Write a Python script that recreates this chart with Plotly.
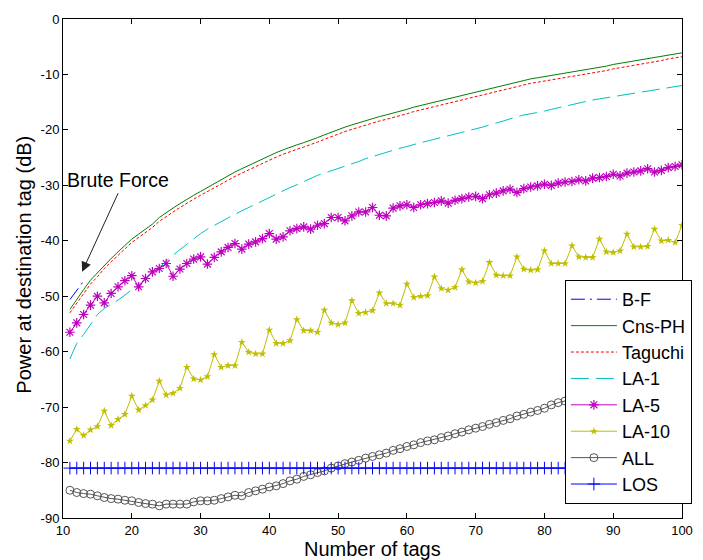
import plotly.graph_objects as go

# ---------------- data ----------------
n_tags = list(range(11, 101))

bf_x = [11, 12, 13]
bf_y = [-50.6, -48.9, -47.3]

cns_ph = [
    -52.4, -50.5, -48.8, -47.1, -45.8, -44.4, -43.2, -42.0, -40.8, -39.7,   # 11-20
    -38.8, -37.9, -37.0, -35.8, -34.9, -34.1, -33.3, -32.5, -31.8, -31.1,   # 21-30
    -30.4, -29.7, -28.9, -28.2, -27.6, -27.0, -26.4, -25.8, -25.2, -24.6,   # 31-40
    -24.1, -23.6, -23.1, -22.7, -22.3, -21.9, -21.4, -20.9, -20.4, -19.9,   # 41-50
    -19.5, -19.1, -18.7, -18.3, -17.9, -17.6, -17.3, -17.0, -16.7, -16.3,   # 51-60
    -15.9, -15.6, -15.3, -15.0, -14.7, -14.3, -14.0, -13.7, -13.4, -13.1,   # 61-70
    -12.8, -12.6, -12.3, -12.0, -11.6, -11.3, -11.0, -10.8, -10.6, -10.4,   # 71-80
    -10.1, -9.9, -9.7, -9.5, -9.3, -9.1, -8.9, -8.7, -8.5, -8.2,            # 81-90
    -8.0, -7.8, -7.6, -7.4, -7.2, -7.0, -6.8, -6.5, -6.3, -6.1,             # 91-100
]

taguchi = [
    -53.0, -51.2, -49.5, -47.8, -46.5, -45.0, -43.8, -42.6, -41.4, -40.3,
    -39.4, -38.5, -37.6, -36.5, -35.6, -34.8, -34.0, -33.2, -32.5, -31.8,
    -31.1, -30.4, -29.7, -29.0, -28.4, -27.8, -27.2, -26.6, -26.0, -25.4,
    -24.9, -24.4, -23.9, -23.5, -23.1, -22.7, -22.2, -21.7, -21.2, -20.7,
    -20.3, -19.9, -19.5, -19.1, -18.7, -18.4, -18.1, -17.8, -17.5, -17.1,
    -16.7, -16.4, -16.1, -15.8, -15.5, -15.1, -14.8, -14.5, -14.2, -13.9,
    -13.6, -13.4, -13.1, -12.8, -12.4, -12.1, -11.8, -11.6, -11.4, -11.2,
    -10.9, -10.7, -10.5, -10.3, -10.1, -9.9, -9.7, -9.5, -9.3, -9.0,
    -8.8, -8.6, -8.4, -8.2, -8.0, -7.8, -7.5, -7.2, -7.0, -6.8,
]

la1 = [
    -61.3, -58.5, -56.9, -55.0, -53.3, -52.2, -51.5, -50.7, -49.8, -48.8,
    -48.0, -46.9, -45.8, -44.7, -43.6, -42.6, -41.6, -40.6, -39.6, -38.7,
    -37.9, -37.2, -36.5, -35.8, -35.2, -34.6, -34.0, -33.3, -32.7, -32.1,
    -31.5, -30.9, -30.4, -29.9, -29.3, -28.7, -28.2, -27.8, -27.4, -27.0,
    -26.6, -26.2, -25.7, -25.2, -24.8, -24.4, -24.0, -23.6, -23.3, -23.0,
    -22.6, -22.3, -22.0, -21.7, -21.4, -21.1, -20.8, -20.5, -20.1, -19.8,
    -19.5, -19.1, -18.8, -18.4, -18.0, -17.6, -17.3, -17.1, -16.9, -16.6,
    -16.3, -16.0, -15.7, -15.4, -15.1, -14.8, -14.6, -14.4, -14.2, -14.0,
    -13.8, -13.6, -13.4, -13.2, -13.0, -12.8, -12.6, -12.4, -12.2, -12.0,
]

la5 = [
    -56.5, -54.8, -53.3, -51.6, -50.0, -51.2, -49.5, -48.3, -47.2, -46.3,
    -48.3, -46.8, -45.6, -45.0, -44.1, -46.4, -45.1, -44.1, -43.3, -42.9,
    -44.2, -43.0, -42.0, -41.2, -40.5, -41.5, -40.6, -40.2, -39.6, -38.7,
    -39.7, -39.3, -38.2, -37.8, -37.5, -37.9, -37.2, -36.9, -35.8, -35.8,
    -36.4, -35.5, -34.8, -34.8, -34.0, -35.4, -35.5, -34.1, -33.7, -33.5,
    -34.0, -33.5, -33.3, -33.1, -32.8, -33.2, -32.7, -32.4, -32.1, -32.0,
    -32.4, -31.7, -31.4, -31.0, -30.7, -31.3, -30.6, -30.3, -30.1, -29.8,
    -30.0, -29.6, -29.4, -29.3, -29.0, -29.2, -28.7, -28.6, -28.4, -28.0,
    -28.3, -27.8, -27.6, -27.4, -27.0, -27.6, -27.3, -26.8, -26.6, -26.3,
]

la10 = [
    -76.1, -74.0, -75.1, -74.1, -73.5, -70.7, -73.3, -72.2, -71.3, -68.0,
    -70.5, -69.7, -68.7, -65.3, -67.8, -67.5, -66.6, -62.8, -64.9, -65.1,
    -64.5, -60.5, -62.8, -62.5, -62.5, -58.3, -60.1, -60.4, -60.4, -56.1,
    -58.5, -58.5, -58.0, -54.2, -56.2, -56.2, -56.5, -52.5, -54.8, -55.1,
    -54.8, -50.8, -53.1, -52.9, -52.6, -49.4, -51.3, -51.3, -51.6, -47.8,
    -50.2, -50.0, -49.9, -46.5, -48.6, -48.9, -48.4, -45.2, -47.4, -47.6,
    -47.3, -43.9, -46.2, -46.3, -46.3, -42.9, -45.1, -45.3, -45.2, -41.8,
    -44.1, -44.1, -44.1, -40.9, -42.9, -43.0, -43.0, -39.7, -42.0, -42.1,
    -41.8, -38.8, -41.1, -41.1, -41.0, -37.9, -40.0, -39.9, -40.3, -37.2,
]

all_sel = [
    -85.0, -85.4, -85.6, -85.7, -86.0, -86.3, -86.5, -86.6, -86.8, -86.9,
    -87.2, -87.4, -87.5, -87.8, -87.5, -87.5, -87.5, -87.5, -87.1, -86.9,
    -86.9, -86.8, -86.5, -86.2, -85.9, -86.0, -85.4, -85.1, -84.8, -84.4,
    -84.2, -83.8, -83.3, -83.0, -82.5, -82.2, -81.8, -81.5, -81.0, -80.6,
    -80.2, -79.9, -79.6, -79.2, -78.9, -78.6, -78.3, -77.8, -77.5, -77.1,
    -76.8, -76.4, -76.1, -75.9, -75.5, -75.2, -74.8, -74.5, -74.1, -73.8,
    -73.5, -73.1, -72.8, -72.4, -72.1, -71.6, -71.3, -70.9, -70.6, -70.2,
    -69.6, -69.2, -68.9, -68.5, -68.2, -67.9, -67.5, -67.2, -66.9, -66.5,
    -66.2, -65.9, -65.5, -65.2, -64.9, -64.6, -64.3, -63.9, -63.6, -63.3,
]

los = [
    -81, -81, -81, -81, -81, -81, -81, -81, -81, -81,
    -81, -81, -81, -81, -81, -81, -81, -81, -81, -81,
    -81, -81, -81, -81, -81, -81, -81, -81, -81, -81,
    -81, -81, -81, -81, -81, -81, -81, -81, -81, -81,
    -81, -81, -81, -81, -81, -81, -81, -81, -81, -81,
    -81, -81, -81, -81, -81, -81, -81, -81, -81, -81,
    -81, -81, -81, -81, -81, -81, -81, -81, -81, -81,
    -81, -81, -81, -81, -81, -81, -81, -81, -81, -81,
    -81, -81, -81, -81, -81, -81, -81, -81, -81, -81,
]

x_ticks = [10, 20, 30, 40, 50, 60, 70, 80, 90, 100]
y_ticks = [0, -10, -20, -30, -40, -50, -60, -70, -80, -90]

FONT = "Arial, 'Liberation Sans', sans-serif"

fig = go.Figure()

fig.add_trace(go.Scatter(x=bf_x, y=bf_y, name="B-F", mode="lines",
                         line=dict(color="#0000FF", width=1, dash="14px,5px,2px,5px")))
fig.add_trace(go.Scatter(x=n_tags, y=cns_ph, name="Cns-PH", mode="lines",
                         line=dict(color="#008000", width=1)))
fig.add_trace(go.Scatter(x=n_tags, y=taguchi, name="Taguchi", mode="lines",
                         line=dict(color="#FF0000", width=1, dash="3px,2px")))
fig.add_trace(go.Scatter(x=n_tags, y=la1, name="LA-1", mode="lines",
                         line=dict(color="#00BFBF", width=1, dash="18px,7px")))
fig.add_trace(go.Scatter(x=n_tags, y=la5, name="LA-5", mode="lines+markers",
                         line=dict(color="#BF00BF", width=1),
                         marker=dict(symbol="asterisk-open", size=8,
                                     line=dict(color="#BF00BF", width=1.2))))
fig.add_trace(go.Scatter(x=n_tags, y=la10, name="LA-10", mode="lines+markers",
                         line=dict(color="#BFBF00", width=1),
                         marker=dict(symbol="star", size=6, color="#BFBF00")))
fig.add_trace(go.Scatter(x=n_tags, y=all_sel, name="ALL", mode="lines+markers",
                         line=dict(color="#555555", width=1),
                         marker=dict(symbol="circle-open", size=8,
                                     line=dict(color="#333333", width=1))))
fig.add_trace(go.Scatter(x=n_tags, y=los, name="LOS", mode="lines+markers",
                         line=dict(color="#0000FF", width=1),
                         marker=dict(symbol="cross-thin-open", size=9,
                                     line=dict(color="#0000FF", width=1))))

axis_common = dict(
    showgrid=False, zeroline=False, showline=True, linecolor="black", linewidth=1,
    mirror="ticks", ticks="inside", ticklen=5, tickcolor="black",
    tickfont=dict(family=FONT, size=13, color="black"),
)

fig.update_xaxes(range=[10, 100], tickvals=x_ticks, ticktext=[str(v) for v in x_ticks],
                 **axis_common)
fig.update_yaxes(range=[-90, 0], tickvals=y_ticks, ticktext=[str(v) for v in y_ticks],
                 **axis_common)

fig.update_layout(
    width=703, height=560,
    margin=dict(l=63, r=11, t=19, b=42),
    paper_bgcolor="white", plot_bgcolor="white",
    font=dict(family=FONT, color="black"),
    showlegend=True,
    legend=dict(x=1.016, xanchor="right", y=0.028, yanchor="bottom",
                bgcolor="white", bordercolor="black", borderwidth=1,
                font=dict(family=FONT, size=18, color="black"),
                itemwidth=46, tracegroupgap=0),
    annotations=[
        dict(text="Brute Force", x=18.0, y=-29.0, xref="x", yref="y",
             showarrow=False, xanchor="center", yanchor="middle",
             font=dict(family=FONT, size=19.5, color="black")),
        dict(text="", x=12.78, y=-45.6, xref="x", yref="y",
             showarrow=True, ax=36.6, ay=-80, arrowhead=2, arrowsize=2,
             arrowwidth=1, arrowcolor="#222222"),
        dict(text="Power at destination tag (dB)", x=-0.0636, y=0.507,
             xref="paper", yref="paper", textangle=-90, showarrow=False,
             xanchor="center", yanchor="middle",
             font=dict(family=FONT, size=20, color="black")),
        dict(text="Number of tags", x=0.4992, y=-0.0361,
             xref="paper", yref="paper", showarrow=False,
             xanchor="center", yanchor="top",
             font=dict(family=FONT, size=20, color="black")),
    ],
)

fig.write_html("out.html", config={"displayModeBar": False},
               post_script="document.body.style.margin='0px';")
